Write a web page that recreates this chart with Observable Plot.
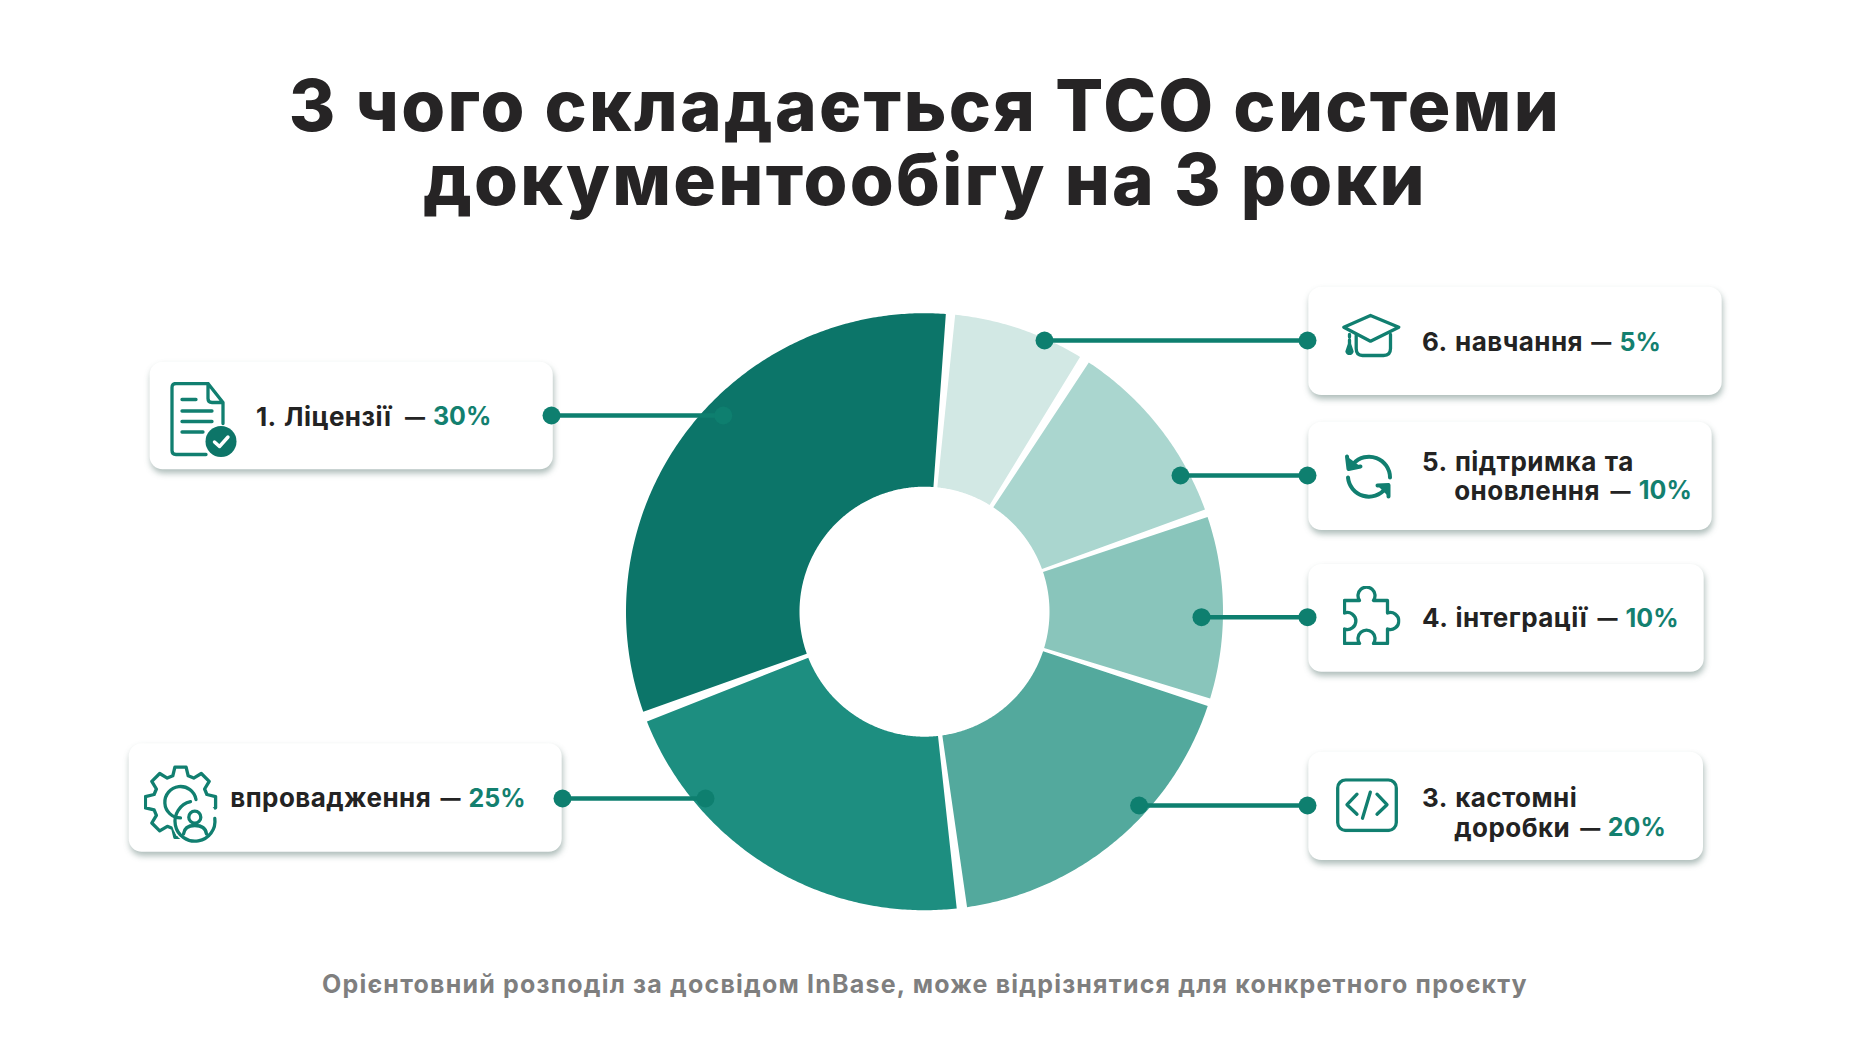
<!DOCTYPE html>
<html lang="uk">
<head>
<meta charset="utf-8">
<title>З чого складається ТСО системи документообігу на 3 роки</title>
<script src="https://cdn.jsdelivr.net/npm/d3@7"></script>
<script src="https://cdn.jsdelivr.net/npm/@observablehq/plot@0.6"></script>
<style>
  html, body { margin: 0; padding: 0; background: #fff; width: 1850px; height: 1050px; overflow: hidden; }
  #title { height: 270px; box-sizing: border-box; padding-top: 68px; text-align: center; font: 800 71px/74px Inter, sans-serif; color: #262425; letter-spacing: 2.3px; }
  #chart svg { display: block; }
  #caption { height: 100px; text-align: center; font: 700 25px/68px Inter, sans-serif; color: #7f7f7f; letter-spacing: 1.2px; }
  g[fill="#232323"] text { letter-spacing: 0.45px; word-spacing: 1.5px; }
</style>
</head>
<body>
<div id="title">З чого складається ТСО системи<br>документообігу на 3 роки</div>
<div id="chart"></div>
<div id="caption">Орієнтовний розподіл за досвідом InBase, може відрізнятися для конкретного проєкту</div>
<script>
// Categories and the percentages printed on the labels
const categories = ["Ліцензії", "впровадження", "кастомні доробки", "інтеграції", "підтримка та оновлення", "навчання"];
const percents = ["30%", "25%", "20%", "10%", "10%", "5%"];
// The slices as actually drawn in the picture: degrees clockwise from north
const arcStart = [250.4, 173.8, 108.4, 71.5, 33.4, 5.9];
const arcEnd = [364.1, 248.4, 171.8, 106.9, 70.0, 31.4];
const sliceColors = ["#0c7569", "#1d8e80", "#53a99d", "#89c5bb", "#aad6cf", "#d2e8e4"];

// Text of the cards, one row per text line
const lineText = ["1. Ліцензії", "впровадження", "3. кастомні", "доробки", "4. інтеграції", "5. підтримка та", "оновлення", "6. навчання"];

// Layout on the page (pixels of the 1850×1050 page)
const cardX1 = [149.6, 128.7, 1308.3, 1308.3, 1308.3, 1308.3];
const cardX2 = [552.8, 561.7, 1703, 1703.7, 1711.7, 1721.7];
const cardY1 = [361.7, 743.3, 751.7, 564, 421.7, 286.7];
const cardY2 = [469.3, 851.7, 860, 671.7, 530, 395];
const leaderY = [415, 798, 805, 616.7, 475, 340];
const leaderCardX = [551, 562, 1307, 1307, 1307, 1307];
const leaderRingX = [722.8, 705, 1138.6, 1201, 1180, 1044];
const lineX = [255.4, 229.7, 1421.5, 1453.7, 1421.5, 1421.5, 1453.7, 1421.5];
const lineY = [416.7, 798, 798, 827.7, 618, 461.7, 490.7, 342];
const dashX = [404.5, 440, 1579.8, 1597, 1610, 1590.8];
const percentX = [432.4, 468, 1607.3, 1625, 1638.3, 1619];
const percentY = [416.7, 798, 827.7, 618, 490.7, 342];
const iconX = [203.5, 181, 1366.5, 1371, 1367.5, 1372.5];
const iconY = [419, 803, 804.7, 615, 477.5, 337.5];
const iconW = [68, 76, 62, 58, 65, 75];
const iconH = [76, 80, 54, 59, 65, 55];
const ringCenterX = 924.5, ringCenterY = 611.7, ringOuter = 298.5, ringInner = 125;
const svgTop = 270, svgHeight = 680;

// Icons
const ink = "#117f70";
const wrap = (w, h, body, sw = 3.3) => "data:image/svg+xml;utf8," + encodeURIComponent(
  `<svg xmlns="http://www.w3.org/2000/svg" width="${w}" height="${h}" viewBox="0 0 ${w} ${h}" fill="none" stroke="${ink}" stroke-width="${sw}" stroke-linecap="round" stroke-linejoin="round">${body}</svg>`);
function gearPath(cx, cy, rOut, rIn, teeth) {
  const pts = [];
  const step = 2 * Math.PI / teeth;
  for (let i = 0; i < teeth; i++) {
    const a = i * step;
    [[rIn, -0.5], [rOut, -0.28], [rOut, 0.28], [rIn, 0.5]].forEach(([r, f]) => {
      const t = a + f * step * 0.72;
      pts.push((cx + r * Math.sin(t)).toFixed(1) + " " + (cy - r * Math.cos(t)).toFixed(1));
    });
  }
  return "M" + pts.join("L") + "Z";
}
const icons = [
  wrap(68, 76, `<path d="M38 2H6Q2 2 2 6V69Q2 73 6 73H36M38 2L53 21V42M38 2V17Q38 21 42 21H53"/>
    <path d="M12 18H26M12 29.5H42M12 40H42M12 50.5H33"/>
    <circle cx="51" cy="60" r="15.5" fill="#0d7568" stroke="none"/>
    <path d="M44.5 60.5L49.5 65L58 55.5" stroke="#fff" stroke-width="3.4"/>`),
  wrap(76, 80, `<path d="${gearPath(37, 38.7, 35.5, 27.5, 8)}"/>
    <circle cx="51.3" cy="57.7" r="23" fill="#fff" stroke="none"/>
    <path d="M37 54.4A15.7 15.7 0 1 1 52.5 36"/>
    <path d="M71.3 55A20 20 0 1 1 47 38.2"/>
    <circle cx="51.3" cy="53.7" r="6"/>
    <path d="M40 70.5Q41 62 51.3 62Q62 62 63 70.5"/>`),
  wrap(62, 54, `<rect x="1.7" y="1.7" width="58.6" height="50.6" rx="8"/>
    <path d="M21 16L11 26.5L21 36M41 16L51 26.5L41 36M34.3 14L26.5 40"/>`),
  wrap(58, 59, `<path d="M2 14.5H17A8.5 8.5 0 1 1 31 14.5H45V27A8.5 8.5 0 1 1 45 43V57.5H31A8.5 8.5 0 1 0 17 57.5H2V43A8.5 8.5 0 1 0 2 27Z"/>`),
  wrap(65, 65, `<path d="M18 18A21 21 0 0 1 54.5 32"/>
    <path d="M11.5 11L13 23.5L25 21" fill="${ink}"/>
    <path d="M12.5 32A21 21 0 0 0 50 43"/>
    <path d="M42 40L53 39.5L53 51" fill="${ink}"/>`, 4),
  wrap(75, 55, `<path d="M8.3 16.7L35 5L63.3 16.7L35 30.7Z"/>
    <path d="M20.7 25V38Q20.7 45 27 45H48Q55 45 55 38V24"/>
    <path d="M14 24V26.5M14 29.5V33"/>
    <path d="M14 33.5L16.5 41A2.6 2.6 0 0 1 11.5 41Z" fill="${ink}"/>`)
];

// Tables for the marks
const slices = categories.map((name, i) => ({name, start: arcStart[i], end: arcEnd[i]}));
const arcPoints = slices.flatMap(s => {
  const n = Math.ceil(s.end - s.start) * 2;
  return d3.range(n + 1).map(k => {
    const a = (s.start + (s.end - s.start) * k / n) * Math.PI / 180;
    return {
      name: s.name,
      xo: ringCenterX + ringOuter * Math.sin(a), yo: ringCenterY - ringOuter * Math.cos(a),
      xi: ringCenterX + ringInner * Math.sin(a), yi: ringCenterY - ringInner * Math.cos(a)
    };
  });
});
const cards = categories.map((name, i) => ({
  name, x1: cardX1[i], x2: cardX2[i], y1: cardY1[i], y2: cardY2[i],
  ly: leaderY[i], lx1: leaderCardX[i], lx2: leaderRingX[i],
  dx: dashX[i], px: percentX[i], py: percentY[i], percent: percents[i],
  ix: iconX[i], iy: iconY[i], iw: iconW[i], ih: iconH[i], src: icons[i]
}));
const rows = lineText.map((text, i) => ({text, x: lineX[i], y: lineY[i]}));
const leaderEnds = cards.flatMap(c => [{x: c.lx1, y: c.ly}, {x: c.lx2, y: c.ly}]);

const font = {fontFamily: "Inter, sans-serif", textAnchor: "start", lineAnchor: "middle"};

const chart = Plot.plot({
  width: 1850,
  height: svgHeight,
  margin: 0,
  style: {background: "#fff"},
  x: {domain: [0, 1850], range: [0, 1850], axis: null},
  y: {domain: [svgTop, svgTop + svgHeight], range: [0, svgHeight], axis: null},
  color: {domain: categories, range: sliceColors},
  marks: [
    Plot.area(arcPoints, {x1: "xo", y1: "yo", x2: "xi", y2: "yi", z: "name", fill: "name", curve: "linear"}),
    Plot.rect(cards, {x1: "x1", x2: "x2", y1: "y1", y2: "y2", fill: "#fff", rx: 13,
      imageFilter: "drop-shadow(1.5px 4px 3px rgba(40,80,72,0.38))"}),
    Plot.ruleY(cards, {y: "ly", x1: "lx1", x2: "lx2", stroke: "#0e7f6f", strokeWidth: 4.5}),
    Plot.dot(leaderEnds, {x: "x", y: "y", r: 9, fill: "#0e7f6f"}),
    Plot.image(cards, {x: "ix", y: "iy", src: "src", width: "iw", height: "ih"}),
    Plot.text(rows, {x: "x", y: "y", text: "text", fill: "#232323", fontSize: 26, fontWeight: 700, ...font}),
    Plot.text(cards, {x: "dx", y: "py", text: () => "—", fill: "#242424", fontSize: 20, fontWeight: 800, ...font}),
    Plot.text(cards, {x: "px", y: "py", text: "percent", fill: "#13806f", fontSize: 25, fontWeight: 700, ...font})
  ]
});
document.getElementById("chart").append(chart);
</script>
</body>
</html>
